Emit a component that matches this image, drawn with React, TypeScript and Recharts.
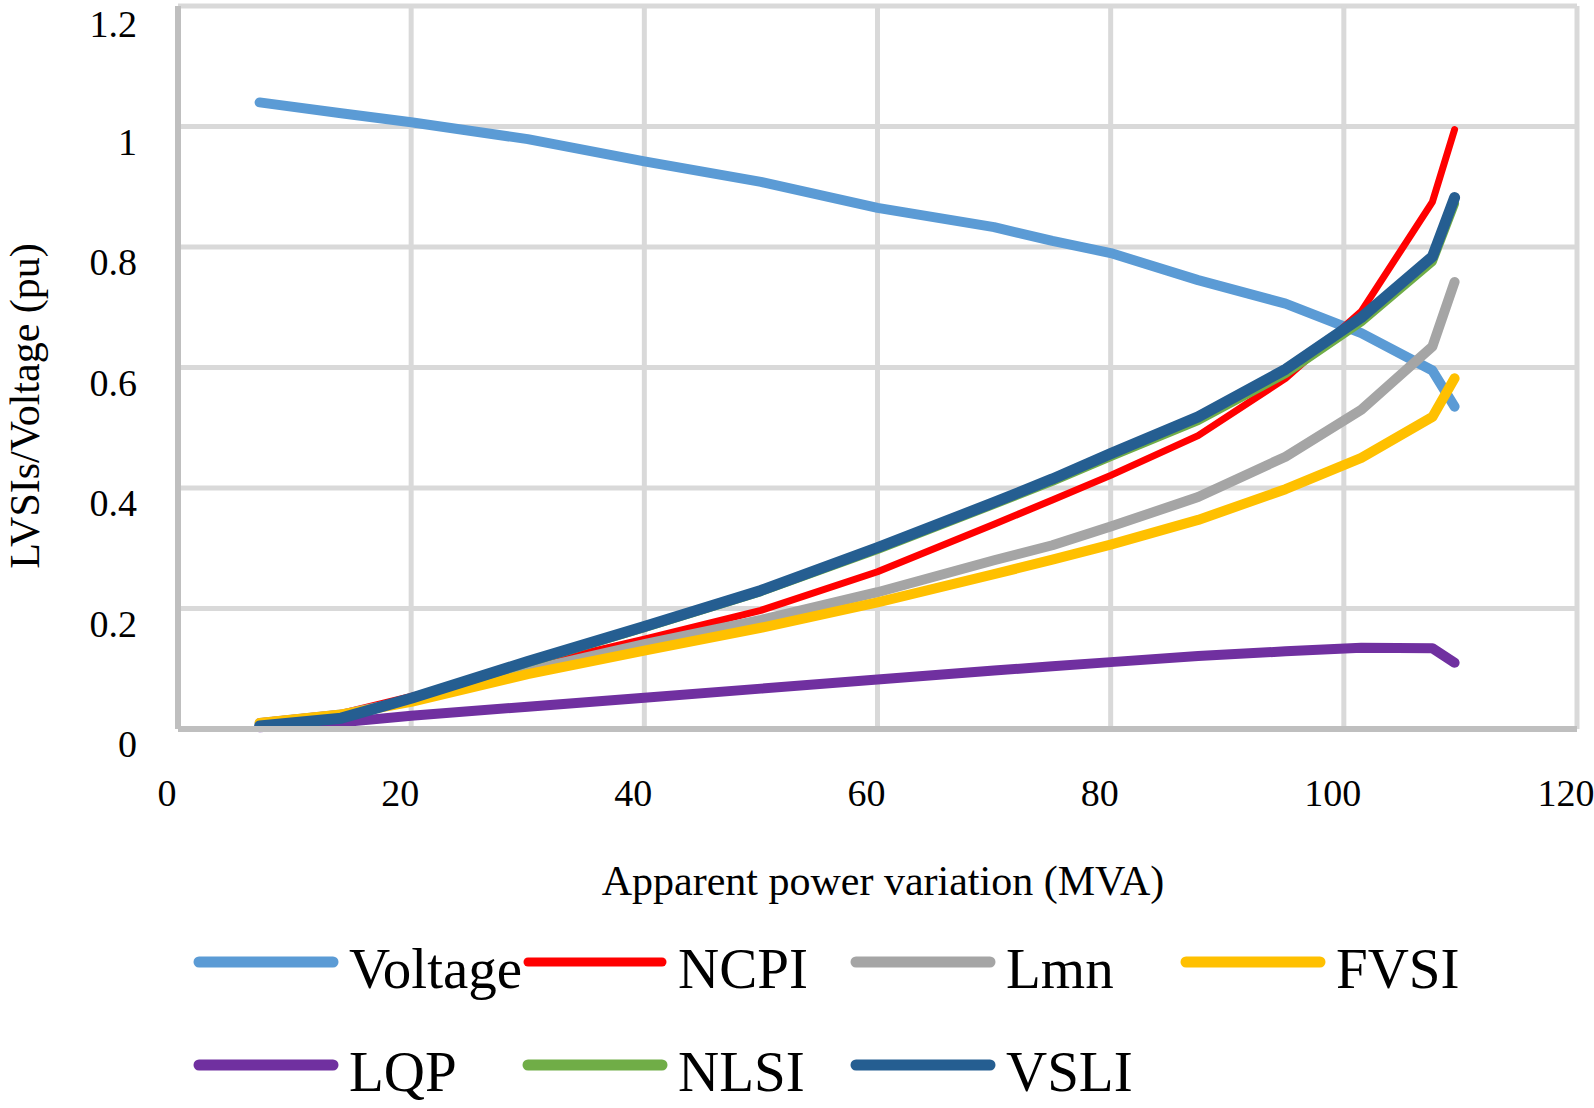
import { LineChart, Line, XAxis, YAxis, CartesianGrid, Legend, Label } from 'recharts'

// apparent power (MVA) at which the indices were read
const xValues = [7, 14, 20, 30, 40, 50, 60, 70, 75, 80, 87.5, 95, 101.5, 107.6, 109.5]

const voltage = [1.04, 1.022, 1.007, 0.979, 0.942, 0.908, 0.865, 0.833, 0.81, 0.79, 0.745, 0.706, 0.657, 0.595, 0.535]
const ncpi = [0.012, 0.026, 0.054, 0.104, 0.149, 0.197, 0.261, 0.34, 0.38, 0.421, 0.487, 0.582, 0.693, 0.875, 0.995]
const lmn = [0.01, 0.024, 0.048, 0.097, 0.141, 0.181, 0.227, 0.28, 0.305, 0.336, 0.385, 0.452, 0.53, 0.635, 0.742]
const fvsi = [0.01, 0.024, 0.045, 0.091, 0.13, 0.168, 0.21, 0.257, 0.281, 0.306, 0.347, 0.398, 0.45, 0.518, 0.582]
const lqp = [0.003, 0.011, 0.022, 0.037, 0.052, 0.067, 0.082, 0.097, 0.104, 0.111, 0.121, 0.129, 0.135, 0.134, 0.11]
const nlsi = [0.005, 0.018, 0.051, 0.11, 0.168, 0.228, 0.298, 0.373, 0.411, 0.452, 0.512, 0.59, 0.676, 0.776, 0.872]
const vsli = [0.005, 0.018, 0.051, 0.112, 0.17, 0.23, 0.301, 0.376, 0.415, 0.457, 0.518, 0.597, 0.683, 0.784, 0.882]

const xTicks = [0, 20, 40, 60, 80, 100, 120]
const yTicks = [0, 0.2, 0.4, 0.6, 0.8, 1, 1.2]

const seriesNames = ['Voltage', 'NCPI', 'Lmn', 'FVSI', 'LQP', 'NLSI', 'VSLI']
const seriesValues = [voltage, ncpi, lmn, fvsi, lqp, nlsi, vsli]
const seriesColors = ['#5B9BD5', '#FF0000', '#A5A5A5', '#FFC000', '#7030A0', '#70AD47', '#255E91']
const seriesWidths = [10, 7, 10, 10, 10, 9, 11]

const data = xValues.map((x, i) => {
  const row: Record<string, number> = { x }
  seriesNames.forEach((n, k) => { row[n] = seriesValues[k][i] })
  return row
})

const FONT = '"Liberation Serif", "Times New Roman", serif'

const XTick = (p: any) => (
  <text x={p.x - 11} y={p.y + 77} textAnchor="middle" fontSize={38} fontFamily={FONT} fill="#000">
    {p.payload.value}
  </text>
)

const YTick = (p: any) => (
  <text x={p.x - 41} y={p.y + 28} textAnchor="end" fontSize={38} fontFamily={FONT} fill="#000">
    {String(p.payload.value)}
  </text>
)

const colX = [199, 528, 856, 1186]
const rowY = [62, 165]

function renderLegend() {
  return (
    <svg width={1594} height={208} style={{ display: 'block' }}>
      {seriesNames.map((name, i) => {
        const col = i < 4 ? i : i - 4
        const row = i < 4 ? 0 : 1
        const x = colX[col]
        const y = rowY[row]
        return (
          <g key={name}>
            <line x1={x} x2={x + 134} y1={y} y2={y} stroke={seriesColors[i]}
              strokeWidth={i === 1 ? 9 : 11} strokeLinecap="round" />
            <text x={x + 150} y={y + 26} fontSize={57} fontFamily={FONT} fill="#000">{name}</text>
          </g>
        )
      })}
    </svg>
  )
}

export default function App() {
  return (
    <div style={{ position: 'absolute', left: 0, top: 0, width: 1594, height: 1108, background: '#fff' }}>
      <LineChart width={1594} height={1108} data={data}
        margin={{ top: 6, right: 17, bottom: 319, left: 0 }}>
        <CartesianGrid stroke="#D9D9D9" strokeWidth={5} />
        <XAxis dataKey="x" type="number" domain={[0, 120]} ticks={xTicks} height={60}
          tickLine={false} tickSize={0} tickMargin={0} tick={XTick}
          axisLine={{ stroke: '#BFBFBF', strokeWidth: 6 }}>
          <Label content={() => (
            <text x={883} y={895} textAnchor="middle" fontSize={42} fontFamily={FONT} fill="#000">
              Apparent power variation (MVA)
            </text>
          )} />
        </XAxis>
        <YAxis type="number" domain={[0, 1.2]} ticks={yTicks} width={178}
          tickLine={false} tickSize={0} tickMargin={0} tick={YTick}
          axisLine={{ stroke: '#BFBFBF', strokeWidth: 6 }}>
          <Label content={() => (
            <text x={39} y={406} transform="rotate(-90, 39, 406)" textAnchor="middle"
              fontSize={42} fontFamily={FONT} fill="#000">
              LVSIs/Voltage (pu)
            </text>
          )} />
        </YAxis>
        <Legend layout="horizontal" verticalAlign="middle" align="center" content={renderLegend}
          wrapperStyle={{ left: 0, top: 900, width: 1594, height: 208 }} />
        {seriesNames.map((name, i) => (
          <Line key={name} type="linear" dataKey={name} stroke={seriesColors[i]}
            strokeWidth={seriesWidths[i]} strokeLinecap="round" strokeLinejoin="round"
            dot={false} activeDot={false} isAnimationActive={false} />
        ))}
      </LineChart>
    </div>
  )
}
